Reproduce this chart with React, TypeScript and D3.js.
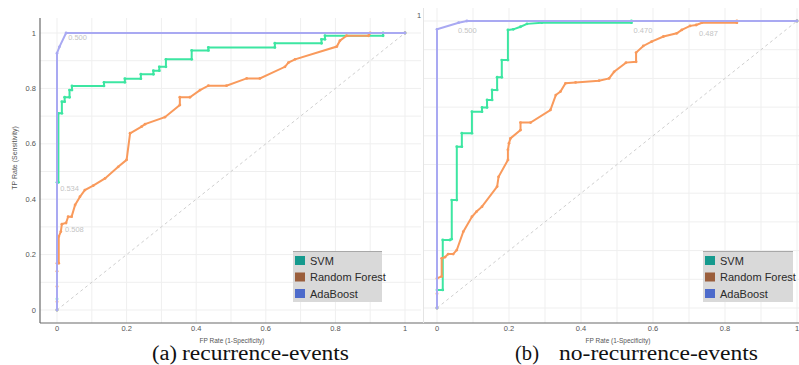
import React from "react"
import * as d3 from "d3"

type Pt = [number, number]

const TICKS = [0, 0.2, 0.4, 0.6, 0.8, 1]
const TICK_LABELS = ["0", "0.2", "0.4", "0.6", "0.8", "1"]
const GRID = d3.range(0, 1.01, 0.1)

const SERIES_NAMES = ["SVM", "Random Forest", "AdaBoost"]
const LINE_COLORS = ["#3de6a2", "#f99a5c", "#a9a9f2"]
const SWATCH_COLORS = ["#159a8e", "#9a5e3c", "#4d6bcb"]

// (a) recurrence-events
const A_SVM: Pt[] = [
  [0, 0], [0, 0.04], [0, 0.461], [0.004, 0.461], [0.004, 0.71], [0.014, 0.71], [0.014, 0.752],
  [0.022, 0.752], [0.022, 0.768], [0.036, 0.768], [0.036, 0.794], [0.043, 0.794],
  [0.043, 0.809], [0.135, 0.809], [0.135, 0.822], [0.195, 0.822], [0.195, 0.835],
  [0.241, 0.835], [0.241, 0.851], [0.277, 0.851], [0.277, 0.864], [0.294, 0.864],
  [0.294, 0.878], [0.313, 0.878], [0.313, 0.905], [0.387, 0.905], [0.387, 0.937],
  [0.435, 0.937], [0.435, 0.948], [0.626, 0.948], [0.626, 0.963], [0.76, 0.963],
  [0.76, 0.977], [0.77, 0.977], [0.77, 0.99], [0.937, 0.99], [0.937, 1], [1, 1],
]
const A_RF: Pt[] = [
  [0, 0], [0, 0.03], [0, 0.085], [0, 0.14], [0, 0.169], [0.005, 0.169], [0.005, 0.265],
  [0.011, 0.283], [0.014, 0.31], [0.026, 0.314], [0.032, 0.337], [0.042, 0.337],
  [0.052, 0.379], [0.066, 0.409], [0.08, 0.433], [0.104, 0.449], [0.138, 0.475],
  [0.176, 0.517], [0.2, 0.542], [0.21, 0.638], [0.243, 0.662], [0.253, 0.671],
  [0.31, 0.696], [0.353, 0.74], [0.353, 0.768], [0.382, 0.768], [0.411, 0.794],
  [0.435, 0.81], [0.487, 0.81], [0.545, 0.836], [0.583, 0.836], [0.655, 0.878],
  [0.665, 0.893], [0.684, 0.905], [0.804, 0.951], [0.813, 0.972], [0.832, 0.99],
  [0.895, 0.99], [0.9, 1], [1, 1],
]
const A_ADA: Pt[] = [[0, 0], [0, 0.927], [0.007, 0.95], [0.026, 1], [1, 1]]

// (b) no-recurrence-events
const B_SVM: Pt[] = [
  [0, 0], [0, 0.063], [0.016, 0.063], [0.016, 0.237], [0.036, 0.237], [0.041, 0.24],
  [0.041, 0.376], [0.055, 0.376], [0.055, 0.562], [0.069, 0.562], [0.069, 0.609],
  [0.097, 0.609], [0.097, 0.684], [0.125, 0.684], [0.125, 0.699], [0.139, 0.699],
  [0.139, 0.725], [0.153, 0.725], [0.153, 0.76], [0.167, 0.76], [0.167, 0.804],
  [0.18, 0.804], [0.18, 0.864], [0.197, 0.864], [0.197, 0.969], [0.212, 0.971],
  [0.232, 0.98], [0.25, 0.99], [0.291, 0.994], [0.54, 0.994], [0.54, 1], [1, 1],
]
const B_RF: Pt[] = [
  [0, 0], [0, 0.05], [0, 0.103], [0.013, 0.11], [0.013, 0.173], [0.022, 0.177],
  [0.031, 0.188], [0.045, 0.188], [0.055, 0.202], [0.073, 0.266], [0.097, 0.318],
  [0.11, 0.336], [0.125, 0.353], [0.167, 0.423], [0.171, 0.457], [0.197, 0.516],
  [0.197, 0.551], [0.2, 0.574], [0.204, 0.591], [0.232, 0.62], [0.232, 0.646],
  [0.26, 0.646], [0.315, 0.69], [0.33, 0.742], [0.343, 0.754], [0.357, 0.783],
  [0.385, 0.786], [0.45, 0.792], [0.478, 0.8], [0.492, 0.823], [0.525, 0.855],
  [0.553, 0.858], [0.553, 0.89], [0.573, 0.913], [0.596, 0.928], [0.629, 0.946],
  [0.666, 0.957], [0.68, 0.969], [0.703, 0.983], [0.72, 0.986], [0.736, 0.994],
  [0.833, 0.994], [0.833, 1], [1, 1],
]
const B_ADA: Pt[] = [[0, 0], [0, 0.971], [0.06, 0.994], [0.083, 1], [1, 1]]

const A_NOTES: { pt: Pt; text: string }[] = [
  { pt: [0.032, 0.985], text: "0.500" },
  { pt: [0.009, 0.44], text: "0.534" },
  { pt: [0.023, 0.29], text: "0.508" },
]
const B_NOTES: { pt: Pt; text: string }[] = [
  { pt: [0.058, 0.968], text: "0.500" },
  { pt: [0.546, 0.968], text: "0.470" },
  { pt: [0.728, 0.958], text: "0.487" },
]

const FONT = "'Liberation Sans', Arial, sans-serif"

function Legend({ x, y, w }: { x: number; y: number; w: number }) {
  return (
    <g>
      <rect x={x} y={y} width={w} height={51} fill="#d9d9d9" />
      <line x1={x} x2={x + w} y1={y + 0.5} y2={y + 0.5} stroke="#a8a8a8" />
      {SERIES_NAMES.map((name, i) => (
        <g key={name}>
          <rect x={x + 2} y={y + 5 + i * 16.5} width={10} height={9} fill={SWATCH_COLORS[i]} />
          <text x={x + 17} y={y + 9.8 + i * 16.5} fontSize={11} fill="#2a2a2a"
            dominantBaseline="central" fontFamily={FONT}>{name}</text>
        </g>
      ))}
    </g>
  )
}

function Panel({ xr, yr, area, series, notes, yLabels, legendX, legendW }: {
  xr: [number, number]; yr: [number, number]; area: [number, number, number, number]
  series: Pt[][]; notes: { pt: Pt; text: string }[]; yLabels: boolean
  legendX: number; legendW: number
}) {
  const x = d3.scaleLinear().domain([0, 1]).range(xr)
  const y = d3.scaleLinear().domain([0, 1]).range(yr)
  const [ax0, ay0, ax1, ay1] = area
  const line = d3.line<Pt>().x(d => x(d[0])).y(d => y(d[1]))

  return (
    <g>
      {GRID.map(v => (
        <g key={v}>
          <line x1={x(v)} x2={x(v)} y1={ay0} y2={ay1} stroke="#efefef" />
          <line x1={ax0} x2={ax1} y1={y(v)} y2={y(v)} stroke="#efefef" />
        </g>
      ))}
      <line x1={x(0)} y1={y(0)} x2={x(1)} y2={y(1)} stroke="#cfcfcf" strokeDasharray="3,3" />
      {series.map((s, i) => (
        <g key={i}>
          <path d={line(s) ?? ""} fill="none" stroke={LINE_COLORS[i]} strokeWidth={2} />
          {s.map((p, j) => (
            <circle key={j} cx={x(p[0])} cy={y(p[1])} r={1.4} fill={LINE_COLORS[i]} />
          ))}
        </g>
      ))}
      {notes.map(n => (
        <text key={n.text + n.pt[0]} x={x(n.pt[0])} y={y(n.pt[1])} fontSize={7.5}
          fill="#c4c4c4" dominantBaseline="central" fontFamily={FONT}>{n.text}</text>
      ))}
      {TICKS.map((t, i) => (
        <text key={"x" + t} x={x(t)} y={328.5} fontSize={7.5} fill="#555" textAnchor="middle"
          dominantBaseline="central" fontFamily={FONT}>{TICK_LABELS[i]}</text>
      ))}
      {yLabels && TICKS.map((t, i) => (
        <text key={"y" + t} x={ax0 - 4} y={y(t)} fontSize={7.5} fill="#555" textAnchor="end"
          dominantBaseline="central" fontFamily={FONT}>{TICK_LABELS[i]}</text>
      ))}
      <text x={(xr[0] + xr[1]) / 2 + 1} y={340} fontSize={6.5} fill="#555" textAnchor="middle"
        dominantBaseline="central" fontFamily={FONT}>FP Rate (1-Specificity)</text>
      <Legend x={legendX} y={251} w={legendW} />
    </g>
  )
}

export default function App() {
  return (
    <div style={{ position: "fixed", left: 0, top: 0 }}>
      <svg width={799} height={365} style={{ display: "block", background: "#fff" }}>
        <Panel xr={[57, 405]} yr={[310, 33]} area={[40, 18, 421, 323]}
          series={[A_SVM, A_RF, A_ADA]} notes={A_NOTES} yLabels legendX={293} legendW={89} />
        <Panel xr={[437, 797]} yr={[308, 21]} area={[423, 8, 799, 323]}
          series={[B_SVM, B_RF, B_ADA]} notes={B_NOTES} yLabels={false} legendX={703} legendW={90} />

        <text x={419} y={15} fontSize={7.5} fill="#555" textAnchor="middle"
          dominantBaseline="central" fontFamily={FONT}>1</text>
        <text transform="translate(14,158) rotate(-90)" fontSize={7} fill="#555"
          textAnchor="middle" dominantBaseline="central" fontFamily={FONT}>TP Rate (Sensitivity)</text>

        <line x1={40} x2={40} y1={18} y2={323} stroke="#6a6a6a" strokeWidth={1.2} />
        <line x1={40} x2={799} y1={323} y2={323} stroke="#6a6a6a" strokeWidth={1.2} />
        <line x1={423.5} x2={423.5} y1={8} y2={323} stroke="#e4e4e4" />

        <g fontFamily="'Liberation Serif', 'Times New Roman', serif" fill="#111" fontSize={20}>
          <text x={152} y={360} textLength={25} lengthAdjust="spacingAndGlyphs">(a)</text>
          <text x={182} y={360} textLength={167} lengthAdjust="spacingAndGlyphs">recurrence-events</text>
          <text x={515} y={360} textLength={24} lengthAdjust="spacingAndGlyphs">(b)</text>
          <text x={559} y={360} textLength={199} lengthAdjust="spacingAndGlyphs">no-recurrence-events</text>
        </g>
      </svg>
    </div>
  )
}
